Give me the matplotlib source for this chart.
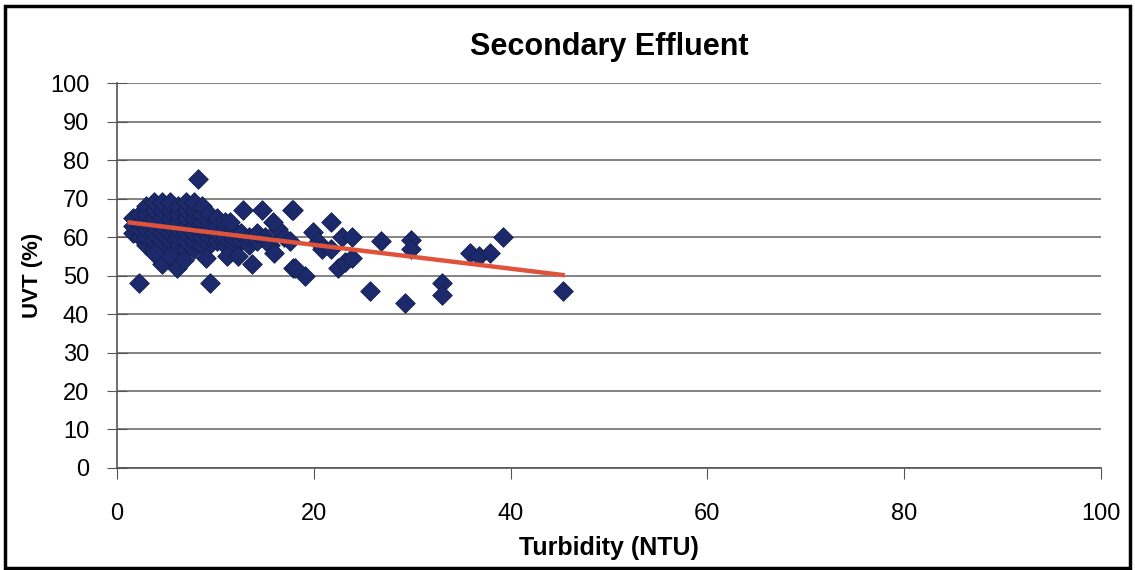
import matplotlib.pyplot as plt
from matplotlib.patches import Rectangle

plt.rcParams['font.family'] = ['Liberation Sans', 'DejaVu Sans']

# dense cluster of low-turbidity samples
blob_x = [1.6, 1.6, 1.6,
          2.3, 2.3, 2.3, 2.3,
          3.0, 3.0, 3.0, 3.0, 3.0, 3.0,
          3.8, 3.8, 3.8, 3.8, 3.8, 3.8, 3.8,
          4.6, 4.6, 4.6, 4.6, 4.6, 4.6, 4.6,
          5.4, 5.4, 5.4, 5.4, 5.4, 5.4, 5.4,
          6.2, 6.2, 6.2, 6.2, 6.2, 6.2, 6.2,
          7.0, 7.0, 7.0, 7.0, 7.0, 7.0, 7.0,
          7.8, 7.8, 7.8, 7.8, 7.8, 7.8, 7.8,
          8.6, 8.6, 8.6, 8.6, 8.6, 8.6,
          9.4, 9.4, 9.4, 9.4, 9.4,
          10.2, 10.2, 10.2, 10.2,
          11.0, 11.0, 11.0, 11.0,
          11.8, 11.8, 11.8,
          12.6, 12.6, 13.4, 13.4, 14.2, 14.2, 15.0, 15.6, 16.4, 17.0]
blob_y = [61, 63, 65,
          60, 62, 64, 66,
          58, 60, 62, 64, 66, 68,
          57, 59, 61, 63, 65, 67, 69,
          57, 59, 61, 63, 65, 67, 69,
          57, 59, 61, 63, 65, 67, 69,
          56, 58, 60, 62, 64, 66, 68,
          57, 59, 61, 63, 65, 67, 69,
          57, 59, 61, 63, 65, 67, 69,
          58, 60, 62, 64, 66, 68,
          58, 60, 62, 64, 66,
          59, 61, 63, 65,
          58, 60, 62, 64,
          58, 60, 62,
          59, 61, 58, 60, 59, 61, 60, 58, 62, 60]

# scattered samples
turb = [8.2, 2.2, 9.5, 12.8, 14.7, 17.8, 15.9, 11.5, 4.6, 6.1, 5.4, 9.1, 11.2,
        12.3, 13.7, 17.9, 19.1, 17.9, 21.8, 19.9, 20.4, 20.8, 21.8, 22.9, 23.9,
        22.5, 23.2, 23.9, 18.1, 17.6, 25.7, 26.8, 29.3, 29.9, 29.9, 33.0, 33.0,
        35.9, 36.8, 37.9, 39.2, 45.3, 3.8, 6.8, 16.0]
uvt = [75, 48, 48, 67, 67, 67, 64, 64, 53, 52, 55, 54.5, 55,
       55, 53, 52, 50, 67, 64, 61.3, 58.7, 56.9, 57, 60, 60,
       52, 53.5, 54.5, 52, 59, 46, 59, 43, 59.2, 57, 48, 45,
       56, 55, 56, 60, 46, 56, 54, 56]

# linear trend
trend_slope = -0.31
trend_intercept = 64.2

x_ticks = [0, 20, 40, 60, 80, 100]
y_ticks = list(range(0, 101, 10))

fig = plt.figure(figsize=(11.35, 5.7), dpi=100)
ax = fig.add_axes([0.103, 0.179, 0.867, 0.675])

navy = '#1c2a6b'
ax.scatter(blob_x, blob_y, marker='D', s=100, c=navy, edgecolors='#14204f',
           linewidths=0.6, zorder=3)
ax.scatter(turb, uvt, marker='D', s=100, c=navy, edgecolors='#14204f',
           linewidths=0.6, zorder=3)

all_x = blob_x + turb
x0, x1 = min(all_x) - 0.3, max(all_x)
ax.plot([x0, x1], [trend_intercept + trend_slope * x0, trend_intercept + trend_slope * x1],
        color='#e0533b', lw=3.2, zorder=4)

ax.set_xlim(0, 100)
ax.set_ylim(0, 100)
ax.set_xticks(x_ticks)
ax.set_yticks(y_ticks)
ax.yaxis.grid(True, color='#6e6e6e', lw=1.2)
ax.set_axisbelow(True)
for s in ['top', 'right']:
    ax.spines[s].set_visible(False)
for s in ['left', 'bottom']:
    ax.spines[s].set_color('#555555')
    ax.spines[s].set_linewidth(1.2)
ax.tick_params(axis='x', direction='out', length=8, color='#555555', labelsize=17, pad=17)
ax.tick_params(axis='y', direction='inout', length=14, color='#555555', labelsize=17, pad=13)

ax.set_title('Secondary Effluent', fontsize=22, fontweight='bold', pad=20)
ax.set_xlabel('Turbidity (NTU)', fontsize=18, fontweight='bold', labelpad=8)
ax.set_ylabel('UVT (%)', fontsize=16, fontweight='bold', labelpad=5)

fig.patches.append(Rectangle((0.004, 0.004), 0.992, 0.985, transform=fig.transFigure,
                             fill=False, edgecolor='black', lw=2.5))

plt.savefig('out.png', dpi=100)
